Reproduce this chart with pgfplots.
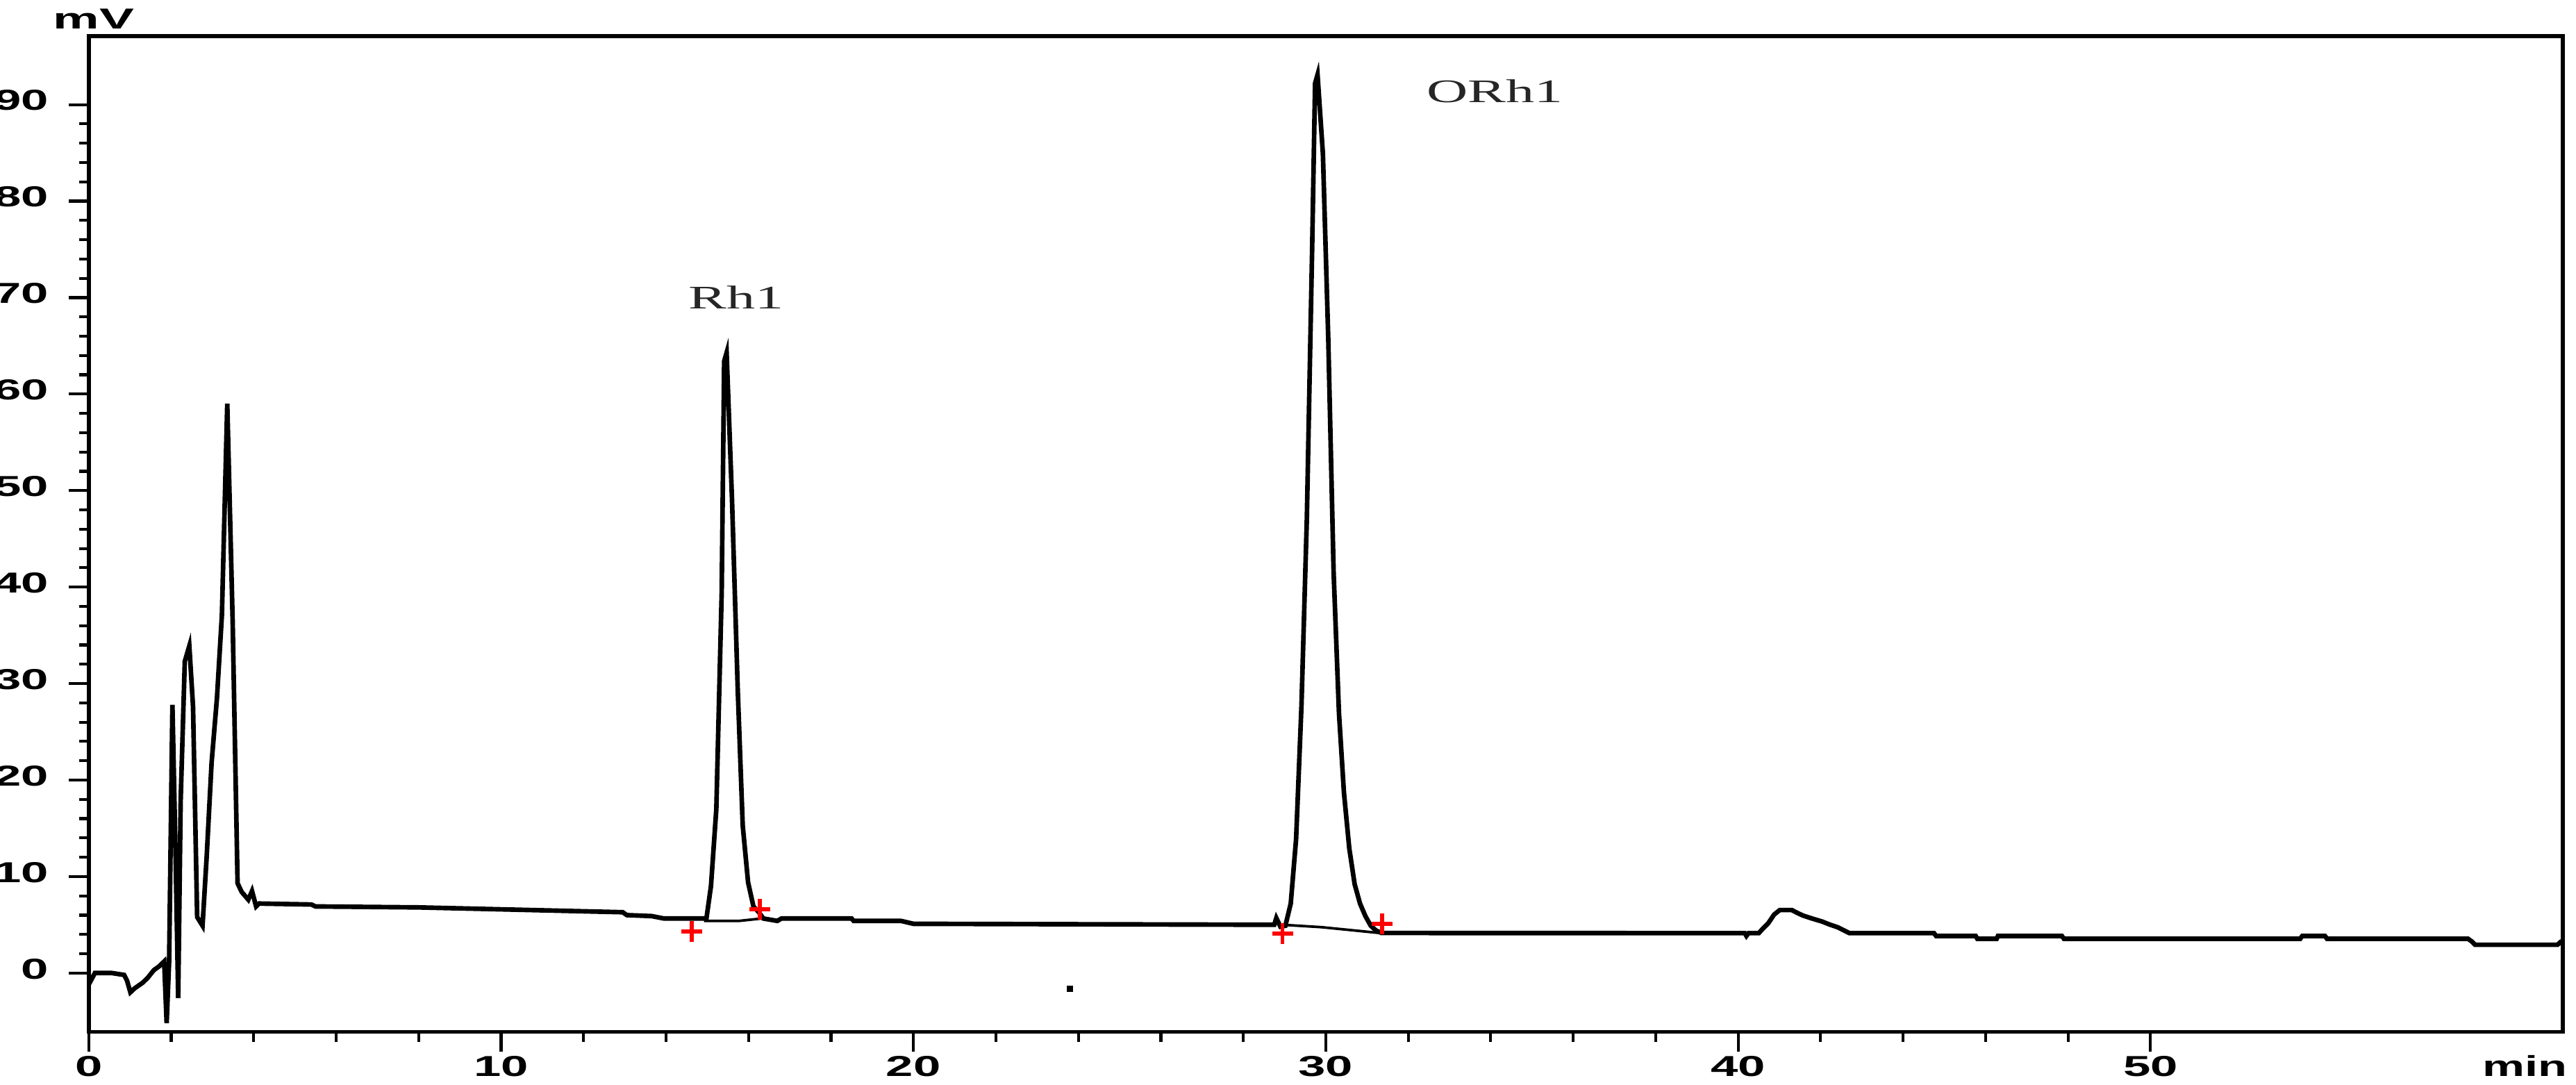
\documentclass[border=0pt]{standalone}
\usepackage{fontspec}
\setmainfont{Liberation Sans}
\newfontfamily\seriffont{Liberation Serif}
\usepackage{graphicx}
\usepackage{pgfplots}
\pgfplotsset{compat=1.18}
\newcommand{\tl}[1]{\scalebox{1.7}[1]{#1}}
\begin{document}
\begin{tikzpicture}
\useasboundingbox (-0.54,-0.32) rectangle (15.14,6.28);
\begin{axis}[
  at={(0,0)}, anchor=south west,
  scale only axis, width=15.06cm, height=6.06cm,
  xmin=0, xmax=60, ymin=-6.1, ymax=97.1,
  axis line style={line width=0.7pt},
  tick align=outside, xtick pos=bottom, ytick pos=left,
  major tick length=0.12cm, minor tick length=0.06cm,
  every tick/.style={black, line width=0.5pt},
  xtick={0,10,20,30,40,50},
  xticklabels={\tl{0},\tl{10},\tl{20},\tl{30},\tl{40},\tl{50}},
  minor x tick num=4,
  ytick={0,10,20,30,40,50,60,70,80,90},
  yticklabels={\tl{0},\tl{10},\tl{20},\tl{30},\tl{40},\tl{50},\tl{60},\tl{70},\tl{80},\tl{90}},
  minor y tick num=4,
  ticklabel style={font=\fontsize{5}{5}\selectfont\bfseries},
  xticklabel style={anchor=base, yshift=-0.15cm},
  typeset ticklabels with strut=false,
  clip=false,
]
% main chromatogram trace
\addplot[black, line width=0.8pt, line join=miter] coordinates {
(0,-1.2) (0.15,0.0) (0.56,0.0) (0.86,-0.2) (0.93,-0.8) (1.01,-2.0) (1.11,-1.6) (1.31,-1.0) (1.43,-0.5) (1.58,0.3) (1.71,0.7) (1.83,1.2)
(1.89,-5.2) (1.95,1.2) (2.03,27.8) (2.11,11.5) (2.17,-2.6) (2.23,17.9) (2.33,32.3) (2.44,33.9) (2.53,27.6) (2.63,5.8) (2.76,4.9)
(2.86,12.0) (2.98,21.8) (3.11,28.5) (3.23,37.1) (3.36,59.0) (3.49,36.6) (3.61,9.3) (3.71,8.4) (3.87,7.6) (3.96,8.5) (4.06,6.9) (4.13,7.2)
(5.4,7.1) (5.5,6.9) (8,6.8) (10,6.6) (12.95,6.3) (13.05,6.0) (13.65,5.9) (13.95,5.65) (14.98,5.65)
(15.09,9.0) (15.22,17.0) (15.35,39.4) (15.41,63.4) (15.47,64.3) (15.60,49.1) (15.74,29.3) (15.86,15.3) (15.99,9.4) (16.12,6.9)
(16.25,6.3) (16.36,5.65) (16.7,5.4) (16.8,5.65) (18.5,5.65) (18.55,5.4) (19.7,5.4) (20,5.1) (28.75,5.0) (28.8,5.7) (28.9,4.8)
(29.02,4.9) (29.15,7.2) (29.28,13.9) (29.41,27.7) (29.54,47.0) (29.67,75.3) (29.74,92.2) (29.8,93.1) (29.93,84.9) (30.06,65.7)
(30.19,41.5) (30.32,26.9) (30.44,18.7) (30.57,12.9) (30.7,9.2) (30.83,7.2) (30.96,5.9) (31.09,4.9) (31.22,4.4) (31.35,4.15)
(40.16,4.13) (40.2,3.84) (40.25,4.13) (40.5,4.13) (40.59,4.56) (40.73,5.16) (40.87,6.05) (41.01,6.53) (41.3,6.53) (41.43,6.24)
(41.57,5.96) (41.79,5.65) (42.04,5.33) (42.21,5.04) (42.42,4.73) (42.7,4.13) (44.75,4.13) (44.8,3.84) (45.76,3.84) (45.8,3.55)
(46.27,3.55) (46.3,3.84) (47.85,3.84) (47.9,3.55) (53.63,3.55) (53.68,3.84) (54.23,3.84) (54.28,3.55) (57.7,3.55) (57.8,3.24)
(57.87,2.93) (59.87,2.93) (59.95,3.24) (60,3.24)
};
% integration baselines
\addplot[black, line width=0.45pt] coordinates {(14.92,5.4) (15.77,5.4) (16.32,5.65)};
\addplot[black, line width=0.45pt] coordinates {(28.95,5.0) (29.9,4.75) (30.6,4.45) (31.3,4.15)};
% peak start / end markers
\addplot[only marks, red, mark=+, mark size=1.8pt, mark options={line width=0.7pt}] coordinates {
(14.62,4.3) (16.27,6.6) (28.95,4.1) (31.37,5.1)
};
% stray dot
\addplot[only marks, black, mark=square*, mark size=0.35pt] coordinates {(23.8,-1.65)};
% peak labels
\node[font=\seriffont\fontsize{5.7}{6}\selectfont, text=black!85] at (axis cs:15.7,70) {\scalebox{1.73}[1]{Rh1}};
\node[font=\seriffont\fontsize{5.7}{6}\selectfont, text=black!85] at (axis cs:34.1,91.4) {\scalebox{1.73}[1]{ORh1}};
% axis unit labels
\node[font=\fontsize{5}{5}\selectfont\bfseries, anchor=base] at ([xshift=0.03cm,yshift=0.045cm]rel axis cs:0,1) {\scalebox{1.8}[1]{mV}};
\node[font=\fontsize{5}{5}\selectfont\bfseries, anchor=base] at ([xshift=-0.23cm,yshift=-0.27cm]rel axis cs:1,0) {\scalebox{1.65}[1]{min}};
\end{axis}
\end{tikzpicture}
\end{document}
